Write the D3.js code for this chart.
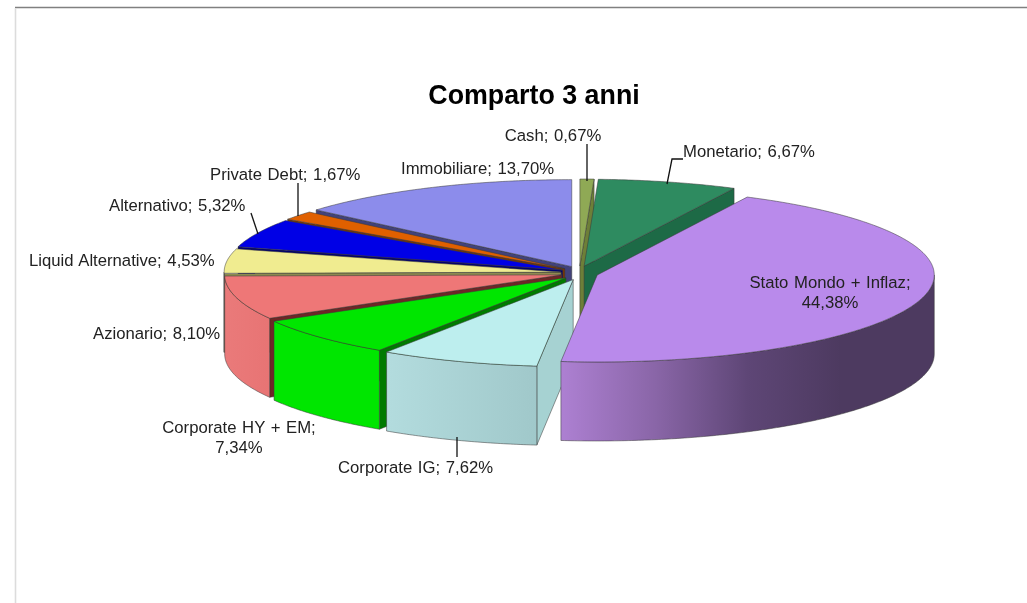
<!DOCTYPE html>
<html><head><meta charset="utf-8">
<script src="https://cdn.jsdelivr.net/npm/d3@7"></script>
<style>html,body{margin:0;padding:0;background:#fff}svg{display:block;filter:blur(0.35px)}text{font-family:"Liberation Sans",Arial,sans-serif;fill:#222}</style>
</head><body><svg id="c" width="1027" height="603"></svg>
<script>
// data
const categories=["Cash","Monetario","Stato Mondo + Inflaz","Corporate IG","Corporate HY + EM","Azionario","Liquid Alternative","Alternativo","Private Debt","Immobiliare"];
const values=[0.67,6.67,44.38,7.62,7.34,8.10,4.53,5.32,1.67,13.70];
const valueLabels=["0,67%","6,67%","44,38%","7,62%","7,34%","8,10%","4,53%","5,32%","1,67%","13,70%"];
const topColors=["#8fa955","#2e8b60","#b98aeb","#bdeeee","#00e600","#ee7777","#f0ec90","#0000e6","#e06000","#8c8ceb"];
const radialWallColors=["#6d7f38","#1d6a46","#5a4470","#a6d2d2","#007a00","#6e2626","#8d8a50","#000070","#7a3500","#42427a"];
const outerWallStops=[["#8fa955","#8fa955"],["#1d6a46","#1d6a46"],["#ad80d2","#8a66a8","#5e4676","#4d3a60","#4d3a60"],["#b3dcde","#a0c8ca"],["#00e600","#00e600"],["#ea7a7a","#e87474"],["#f0ec90","#f0ec90"],["#0000e6","#0000e6"],["#e06000","#e06000"],["#8c8ceb","#8c8ceb"]];
// layout
const cx=579.5,cy=273,rx=337,ry=87,depth=79,ex=18.5,ey=7;
const paintOrder=[0,1,9,8,7,6,5,4,3,2];
const svg=d3.select("#c");
svg.append("line").attr("x1",15).attr("x2",1027).attr("y1",7.5).attr("y2",7.5).attr("stroke","#808080").attr("stroke-width",1.6);
svg.append("line").attr("x1",15.5).attr("x2",15.5).attr("y1",8).attr("y2",603).attr("stroke","#dcdcdc").attr("stroke-width",1.6);
const pie=d3.pie().sort(null).startAngle(0).endAngle(2*Math.PI).value(d=>d);
const arcs=pie(values);
const px=d3.scaleLinear().domain([-1,1]).range([-rx,rx]);
const py=d3.scaleLinear().domain([-1,1]).range([-ry,ry]);
const line=d3.line();
const defs=svg.append("defs");
const EDGE="#3a3a3a";
function tip(a){const m=(a.startAngle+a.endAngle)/2;return [cx+ex*Math.sin(m),cy-ey*Math.cos(m)];}
function rim(t,ang,dz=0){return [t[0]+px(Math.sin(ang)),t[1]+py(-Math.cos(ang))+dz];}
function sweep(a0,a1,t,dz=0){const n=Math.max(2,Math.ceil((a1-a0)/0.01));return d3.range(n+1).map(i=>rim(t,a0+(a1-a0)*i/n,dz));}
function poly(g,pts,fill){g.append("path").attr("d",line(pts)+"Z").attr("fill",fill).attr("stroke",EDGE).attr("stroke-width",0.7).attr("stroke-opacity",0.75).attr("stroke-linejoin","round");}
paintOrder.forEach(i=>{
  const a=arcs[i],t=tip(a),g=svg.append("g");
  const tb=[t[0],t[1]+depth];
  // only the radial walls that face the viewer
  if(Math.sin(a.startAngle)<0){const r=rim(t,a.startAngle);poly(g,[t,r,[r[0],r[1]+depth],tb],radialWallColors[i]);}
  if(Math.sin(a.endAngle)>0){const r=rim(t,a.endAngle);poly(g,[t,r,[r[0],r[1]+depth],tb],radialWallColors[i]);}
  const a0=Math.max(a.startAngle,Math.PI/2),a1=Math.min(a.endAngle,3*Math.PI/2);
  if(a1>a0){
    const upper=sweep(a0,a1,t),lower=sweep(a0,a1,t,depth).reverse();
    const xs=upper.map(p=>p[0]),id="w"+i;
    const gr=defs.append("linearGradient").attr("id",id).attr("gradientUnits","userSpaceOnUse")
      .attr("x1",d3.min(xs)).attr("x2",d3.max(xs)).attr("y1",0).attr("y2",0);
    const st=outerWallStops[i];
    st.forEach((c,k)=>gr.append("stop").attr("offset",k/(st.length-1)).attr("stop-color",c));
    poly(g,upper.concat(lower),`url(#${id})`);
  }
  poly(g,[t].concat(sweep(a.startAngle,a.endAngle,t)),topColors[i]);
});
// leaders
const leaders=[[[587,144],[587,181]],[[683,159],[672,159],[667,184]],[[298,183],[298,216]],[[251,213],[258,234]],[[457,437],[457,457]]];
leaders.forEach(p=>svg.append("path").attr("d",line(p)).attr("fill","none").attr("stroke","#111").attr("stroke-width",1.3));
// labels
const anchors=[[553,141,"middle"],[683,157,"start"],[830,288,"middle"],[338,473,"start"],[239,433,"middle"],[93,339,"start"],[29,266,"start"],[109,211,"start"],[210,180,"start"],[401,174,"start"]];
const twoLines=new Set([2,4]);
categories.forEach((c,i)=>{
  const [x,y,an]=anchors[i];
  const t=svg.append("text").attr("x",x).attr("y",y).attr("text-anchor",an).attr("font-size",16.7).style("word-spacing","1px");
  if(twoLines.has(i)){
    t.append("tspan").attr("x",x).text(c+";");
    t.append("tspan").attr("x",x).attr("dy",20).text(valueLabels[i]);
  } else t.text(c+"; "+valueLabels[i]);
});
svg.append("text").attr("x",534).attr("y",104).attr("text-anchor","middle").attr("font-size",26.8).attr("font-weight","bold").style("fill","#000").text("Comparto 3 anni");
</script></body></html>
